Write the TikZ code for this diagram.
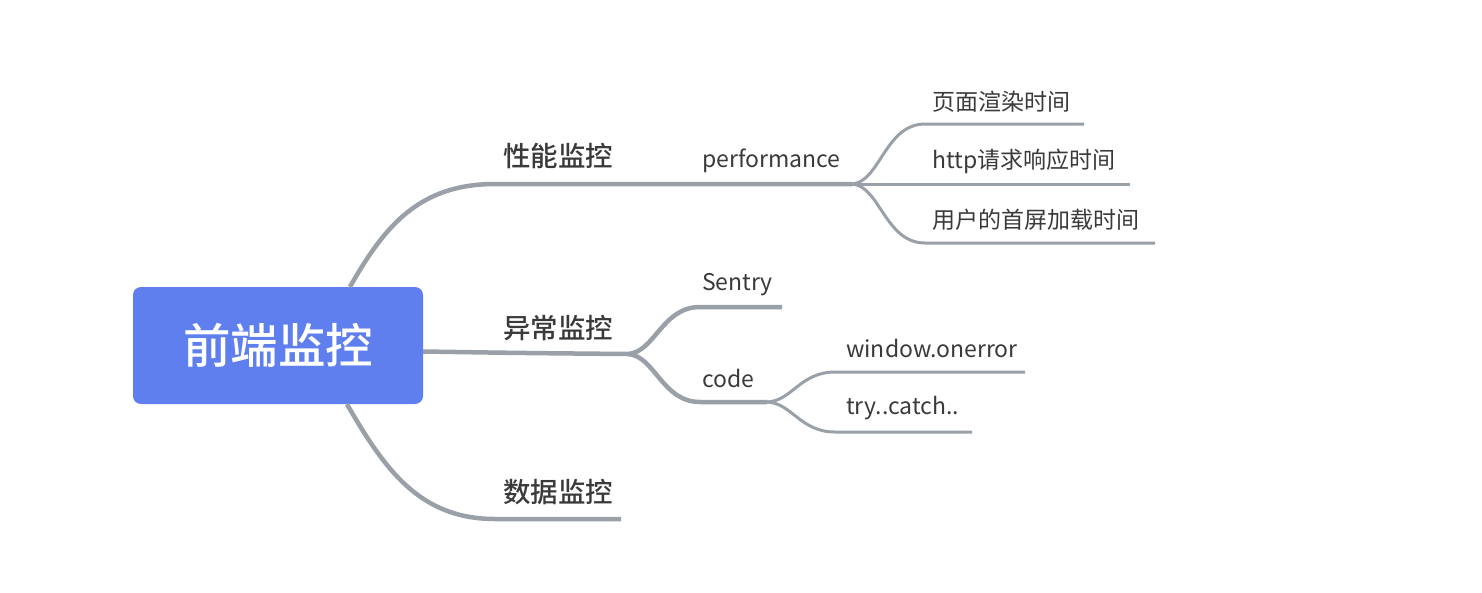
\documentclass[tikz,border=0pt]{standalone}
\usepackage{fontspec}
\setmainfont{Noto Sans CJK SC}
\newfontfamily\medfont{Noto Sans CJK SC Medium}
\definecolor{lc}{HTML}{9AA0A8}
\definecolor{rootc}{HTML}{5F7FEE}
\definecolor{tc}{HTML}{3A3A3A}
\begin{document}
\begin{tikzpicture}[x=1pt,y=-1pt,
  br/.style={draw=lc,line width=4.5pt},
  lf/.style={draw=lc,line width=3pt},
  lvone/.style={inner sep=0pt,anchor=base west,text=tc,font=\fontsize{27.5}{27.5}\selectfont\medfont},
  lvtwo/.style={inner sep=0pt,anchor=base west,text=tc,font=\fontsize{23}{23}\selectfont}]
\useasboundingbox (0,0) rectangle (1482,592);
% connector coordinates
\coordinate (p1) at (852,184);
\coordinate (e11) at (1084,124);
\coordinate (e12) at (1130,184);
\coordinate (e13) at (1155,243);
\coordinate (p2) at (628,354);
\coordinate (e21) at (782,307);
\coordinate (p3) at (767,402);
\coordinate (e31) at (1025,372);
\coordinate (e32) at (972,432);
\coordinate (e3) at (621,519);
% root
\node[fill=rootc,rounded corners=8pt,minimum width=290pt,minimum height=117pt,inner sep=0pt,
      text=white,font=\fontsize{47.5}{47.5}\selectfont\medfont] (root) at (278,345.5) {前端监控};
% branches
\draw[br] ([xshift=72pt]root.north) .. controls (385,225) and (420,184) .. (495,184) -- (p1);
\draw[br] ([yshift=-6pt]root.east) .. controls (520,353) .. (p2);
\draw[br] ([xshift=69pt]root.south) .. controls (385,470) and (420,519) .. (495,519) -- (e3);
\draw[lf] (p1) .. controls (880,182) and (885,124) .. (925,124) -- (e11);
\draw[lf] (p1) -- (e12);
\draw[lf] (p1) .. controls (880,186) and (885,243) .. (925,243) -- (e13);
\draw[br] (p2) .. controls (655,352) and (662,307) .. (700,307) -- (e21);
\draw[br] (p2) .. controls (655,356) and (662,402) .. (700,402) -- (p3);
\draw[lf] (p3) .. controls (792,401) and (800,372) .. (835,372) -- (e31);
\draw[lf] (p3) .. controls (792,403) and (800,432) .. (835,432) -- (e32);
% labels
\node[lvone] (a1) at (503,166) {性能监控};
\node[lvone] (a2) at (503,338) {异常监控};
\node[lvone] (a3) at (503,502) {数据监控};
\node[lvtwo] (b1) at (702,167) {performance};
\node[lvtwo] (c1) at (932,110) {页面渲染时间};
\node[lvtwo] (c2) at (932,168) {http请求响应时间};
\node[lvtwo] (c3) at (932,228) {用户的首屏加载时间};
\node[lvtwo] (b2) at (702,290) {Sentry};
\node[lvtwo] (b3) at (702,387) {code};
\node[lvtwo] (d1) at (846,357) {window.onerror};
\node[lvtwo] (d2) at (846,414) {try..catch..};
\end{tikzpicture}
\end{document}
